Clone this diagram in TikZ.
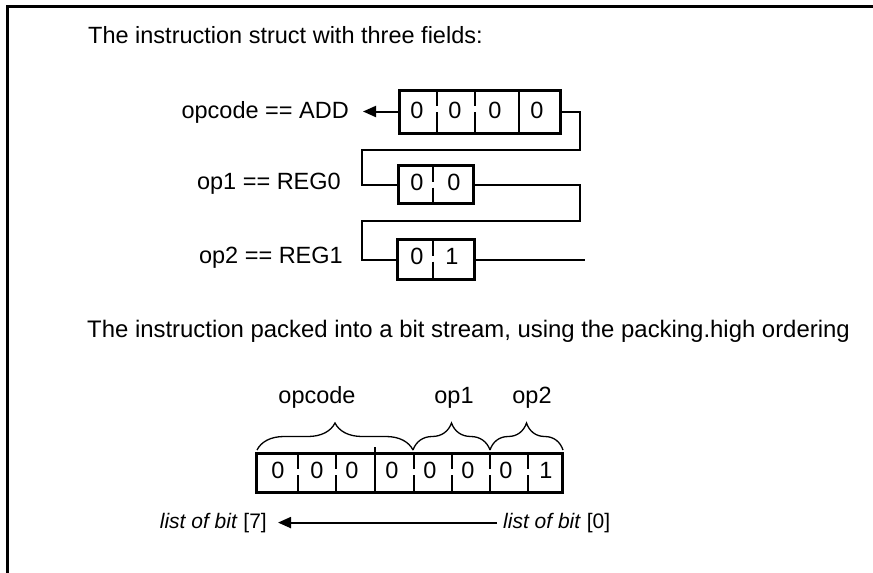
\documentclass[tikz,border=0pt]{standalone}
\usepackage{fontspec}
\setmainfont{Liberation Sans}
\usetikzlibrary{decorations.pathreplacing,arrows.meta}
\begin{document}
\begin{tikzpicture}[x=1pt,y=-1pt,
  every node/.style={font=\fontsize{23.5}{28}\selectfont, inner sep=0pt},
  small/.style={font=\fontsize{21}{25}\selectfont},
  regbox/.style={draw, line width=3pt, rectangle, inner sep=0pt},
  wire/.style={line width=2pt},
  solidsep/.style={line width=2pt},
  dashsep/.style={line width=2pt, dash pattern=on 16pt off 6pt on 40pt},
  bracestyle/.style={decorate, decoration={brace, amplitude=27pt}, line width=1.3pt},
  tip/.style={-{Triangle[length=13pt,width=11pt]}},
  digit/.style={anchor=base}]
\useasboundingbox (0,0) rectangle (873,573);
% frame
\draw[line width=3pt] (7,573) -- (7,6) -- (873,6);
% titles
\node[anchor=base west] (t1) at (88,43) {The instruction struct with three fields:};
\node[anchor=base west, font=\fontsize{23.9}{28}\selectfont] (t2) at (87,337) {The instruction packed into a bit stream, using the packing.high ordering};
% opcode box
\node[regbox, minimum width=161pt, minimum height=43pt] (opbox) at (479.5,111.5) {};
\draw[dashsep] (437,90) -- (437,133);
\draw[dashsep] (475,90) -- (475,133);
\draw[solidsep] (519,90) -- (519,133);
\node[digit] (o1) at (417,118) {0};
\node[digit] (o2) at (455,118) {0};
\node[digit] (o3) at (495,118) {0};
\node[digit] (o4) at (537,118) {0};
\node[anchor=base east] (oplab) at (349,118) {opcode == ADD};
\draw[wire,tip,shorten >=14pt] (opbox.west) -- (opbox.west -| oplab.east);
% op1 box
\node[regbox, minimum width=75pt, minimum height=38pt] (op1box) at (435.5,184.5) {};
\draw[dashsep] (433,165.5) -- (433,203.5);
\node[digit] (p1) at (417,190) {0};
\node[digit] (p2) at (454,190) {0};
\node[anchor=base east] (op1lab) at (341,189) {op1 == REG0};
% op2 box
\node[regbox, minimum width=77pt, minimum height=40pt] (op2box) at (435.5,259.5) {};
\draw[dashsep] (433,239.5) -- (433,279.5);
\node[digit] (q1) at (417,264) {0};
\node[digit] (q2) at (452,264) {1};
\node[anchor=base east] (op2lab) at (343,263) {op2 == REG1};
% connectors
\coordinate (c1) at (580,150);
\coordinate (c2) at (362,150);
\coordinate (c3) at (580,221);
\coordinate (c4) at (362,221);
\coordinate (c5) at (585,259.5);
\draw[wire] (opbox.east) -| (c1) -- (c2) |- (op1box.west);
\draw[wire] (op1box.east) -| (c3) -- (c4) |- (op2box.west);
\draw[wire] (op2box.east) -- (c5);
% bit stream register
\node[regbox, minimum width=306pt, minimum height=39pt] (reg) at (409,472.5) {};
\draw[dashsep] (298,453) -- (298,492);
\draw[dashsep] (336,453) -- (336,492);
\draw[solidsep] (375,447) -- (375,492);
\draw[dashsep] (414,453) -- (414,492);
\draw[dashsep] (452,453) -- (452,492);
\draw[dashsep] (490,453) -- (490,492);
\draw[dashsep] (528,453) -- (528,492);
\node[digit] (b7) at (278,478) {0};
\node[digit] (b6) at (317,478) {0};
\node[digit] (b5) at (352,478) {0};
\node[digit] (b4) at (392,478) {0};
\node[digit] (b3) at (430,478) {0};
\node[digit] (b2) at (468,478) {0};
\node[digit] (b1) at (506,478) {0};
\node[digit] (b0) at (546,478) {1};
% braces
\draw[bracestyle] (257,450) -- (413,450);
\draw[bracestyle] (413,450) -- (490,450);
\draw[bracestyle] (490,450) -- (563,450);
\node[anchor=base] (lopc) at (317,403) {opcode};
\node[anchor=base] (lop1) at (454,403) {op1};
\node[anchor=base] (lop2) at (532,403) {op2};
% bottom arrow
\node[anchor=base east, small] (l7) at (267,528) {\textit{list of bit} [7]};
\node[anchor=base west, small] (l0) at (503,528) {\textit{list of bit} [0]};
\draw[wire,tip,shorten <=6pt,shorten >=11pt] (l0.west) -- (l0.west -| l7.east);
\end{tikzpicture}
\end{document}
